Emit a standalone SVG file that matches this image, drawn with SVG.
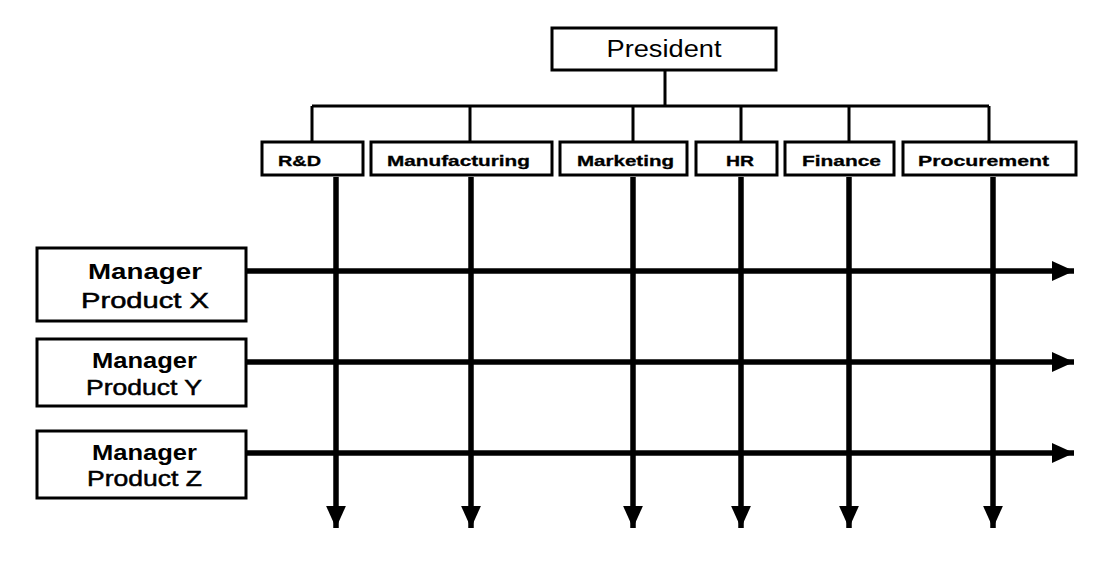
<svg xmlns="http://www.w3.org/2000/svg" width="1097" height="562" viewBox="0 0 1097 562">
<defs>
<style>
.box{fill:#fff;stroke:#000;stroke-width:3}
.ln{stroke:#000;stroke-width:3;fill:none}
.ar{stroke:#000;stroke-width:5.5;fill:none}
.dept{font-family:"Liberation Sans",Arial,sans-serif;font-weight:bold;font-size:15px;text-anchor:middle;stroke:#000;stroke-width:0.3}
.pres{font-family:"Liberation Sans",Arial,sans-serif;font-size:23px;text-anchor:middle}
.mgr{font-family:"Liberation Sans",Arial,sans-serif;font-size:22px;text-anchor:middle}
.prod{stroke:#000;stroke-width:0.5}
</style>
<marker id="ah" markerUnits="userSpaceOnUse" markerWidth="22" markerHeight="22" viewBox="0 0 20 20" refX="20" refY="10" orient="auto">
<path d="M0,1 L20,10 L0,19 Z" fill="#000"/>
</marker>
</defs>
<rect width="1097" height="562" fill="#fff"/>
<g id="connectors">
<path class="ln" d="M665,70 V106 M312,106 H989 M312,106 V142 M470,106 V142 M633,106 V142 M741,106 V142 M849,106 V142 M989,106 V142"/>
<path class="ar" marker-end="url(#ah)" d="M336,177 V528"/>
<path class="ar" marker-end="url(#ah)" d="M471,177 V528"/>
<path class="ar" marker-end="url(#ah)" d="M633,177 V528"/>
<path class="ar" marker-end="url(#ah)" d="M741,177 V528"/>
<path class="ar" marker-end="url(#ah)" d="M849,177 V528"/>
<path class="ar" marker-end="url(#ah)" d="M993,177 V528"/>
<path class="ar" marker-end="url(#ah)" d="M246,271 H1074"/>
<path class="ar" marker-end="url(#ah)" d="M246,362 H1074"/>
<path class="ar" marker-end="url(#ah)" d="M246,453 H1074"/>
</g>
<g id="president"><rect class="box" x="552" y="28" width="224" height="42"/><text class="pres" x="664" y="57" textLength="115" lengthAdjust="spacingAndGlyphs">President</text></g>
<g id="rnd"><rect class="box" x="262" y="142" width="101" height="33"/><text class="dept" x="299.5" y="166" textLength="43" lengthAdjust="spacingAndGlyphs">R&amp;D</text></g>
<g id="manufacturing"><rect class="box" x="371" y="142" width="181" height="33"/><text class="dept" x="458.5" y="166" textLength="143" lengthAdjust="spacingAndGlyphs">Manufacturing</text></g>
<g id="marketing"><rect class="box" x="560" y="142" width="127" height="33"/><text class="dept" x="625.5" y="166" textLength="97" lengthAdjust="spacingAndGlyphs">Marketing</text></g>
<g id="hr"><rect class="box" x="696" y="142" width="81" height="33"/><text class="dept" x="740" y="166" textLength="28" lengthAdjust="spacingAndGlyphs">HR</text></g>
<g id="finance"><rect class="box" x="785" y="142" width="109" height="33"/><text class="dept" x="841.5" y="166" textLength="79" lengthAdjust="spacingAndGlyphs">Finance</text></g>
<g id="procurement"><rect class="box" x="903" y="142" width="173" height="33"/><text class="dept" x="983.5" y="166" textLength="131" lengthAdjust="spacingAndGlyphs">Procurement</text></g>
<g id="mgrX"><rect class="box" x="37" y="248" width="209" height="73"/><text class="mgr" x="145" y="279" font-weight="bold" textLength="114" lengthAdjust="spacingAndGlyphs">Manager</text><text class="mgr prod" x="145" y="308" textLength="128" lengthAdjust="spacingAndGlyphs">Product X</text></g>
<g id="mgrY"><rect class="box" x="37" y="339" width="209" height="67"/><text class="mgr" x="144.5" y="368" font-weight="bold" textLength="105" lengthAdjust="spacingAndGlyphs">Manager</text><text class="mgr prod" x="144" y="395" textLength="116" lengthAdjust="spacingAndGlyphs">Product Y</text></g>
<g id="mgrZ"><rect class="box" x="37" y="431" width="209" height="67"/><text class="mgr" x="144.5" y="460" font-weight="bold" textLength="105" lengthAdjust="spacingAndGlyphs">Manager</text><text class="mgr prod" x="144.5" y="486" textLength="115" lengthAdjust="spacingAndGlyphs">Product Z</text></g>
</svg>
